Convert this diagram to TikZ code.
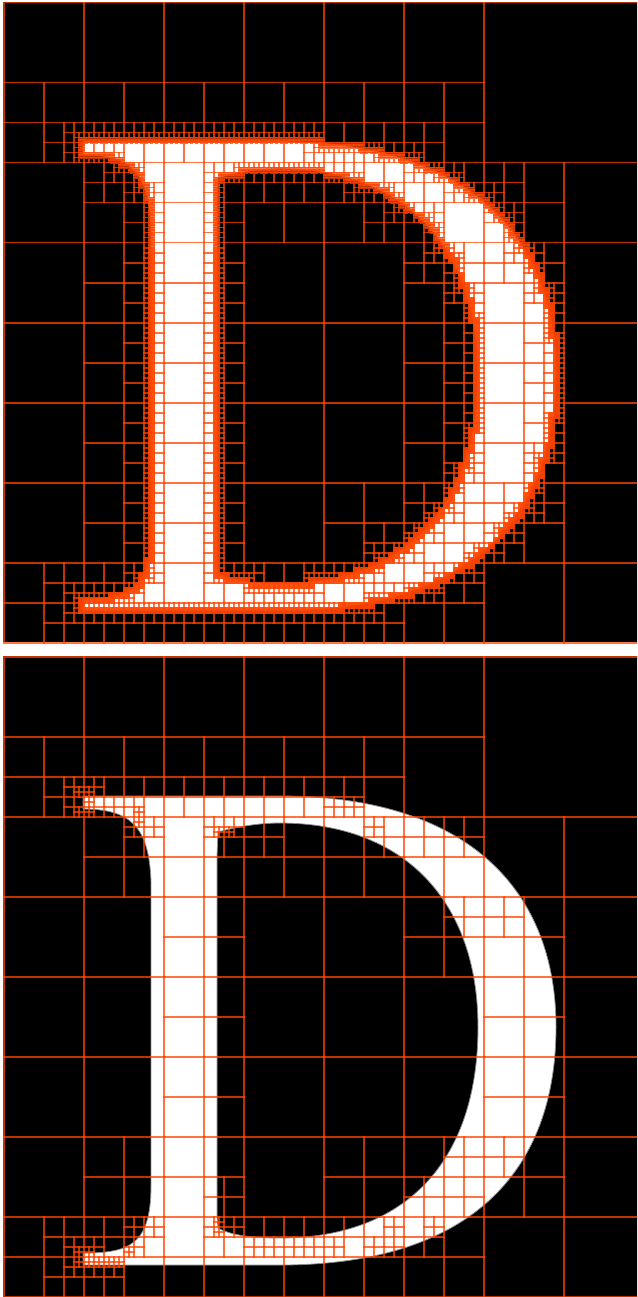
\documentclass[tikz,border=0pt]{standalone}
\definecolor{qline}{HTML}{FF4500}
\newcount\qi \newcount\qj \newcount\qs \newcount\qk \newcount\qn \newcount\qt
\newcount\qpx \newcount\qpy \newcount\qdx \newcount\qdy \newcount\qnx \newcount\qny
\newdimen\qox \newdimen\qoy
% mark every cell from the root down to size #4 (tenths) that holds point (#2,#3)
\def\qmkall#1#2#3#4{\begingroup\qs=6400
  \loop
    \qi=#2 \divide\qi by \qs \qj=#3 \divide\qj by \qs
    \expandafter\gdef\csname #1\the\qi:\the\qj:\the\qs\endcsname{}%
  \ifnum\qs>#4 \divide\qs by 2 \repeat\endgroup}
\def\qb#1#2#3{\qmkall{B}{\numexpr#1*10+10\relax}{\numexpr#2*10+10\relax}{\numexpr#3*10\relax}}
% walk the outline in px and mark the top tree
\def\qseg{\begingroup
  \qdx=\numexpr\qnx-\qpx\relax \qdy=\numexpr\qny-\qpy\relax
  \qn=\numexpr(\ifnum\qdx<0 -\fi\qdx+\ifnum\qdy<0 -\fi\qdy)/5+1\relax
  \qk=0
  \loop
    \qmkall{T}{\numexpr\qpx+\qdx*\qk/\qn\relax}{\numexpr\qpy+\qdy*\qk/\qn\relax}{50}%
  \ifnum\qk<\qn \advance\qk by 1 \repeat\endgroup
  \qpx=\qnx \qpy=\qny}
\def\qstart(#1,#2){\qpx=\numexpr#1*10-33\relax \qpy=\numexpr#2*10-5\relax}
\def\qto(#1,#2){\qnx=\numexpr#1*10-33\relax \qny=\numexpr#2*10-5\relax \qseg}
\def\qc#1{(#1*10-33)}\def\qd#1{(#1*10-5)}
\def\qbz(#1,#2)(#3,#4)(#5,#6)(#7,#8){\qstart(#1,#2)\qt=1
  \loop
    \qnx=\numexpr((64-\qt)*(64-\qt)*(64-\qt)*\qc{#1}+3*(64-\qt)*(64-\qt)*\qt*\qc{#3}+3*(64-\qt)*\qt*\qt*\qc{#5}+\qt*\qt*\qt*\qc{#7})/262144\relax
    \qny=\numexpr((64-\qt)*(64-\qt)*(64-\qt)*\qd{#2}+3*(64-\qt)*(64-\qt)*\qt*\qd{#4}+3*(64-\qt)*\qt*\qt*\qd{#6}+\qt*\qt*\qt*\qd{#8})/262144\relax
    \qseg
  \ifnum\qt<64 \advance\qt by 1 \repeat}
% drawing: every grid line is a filled bar
\def\qpt#1#2{\pgfqpoint{\dimexpr65536sp*\numexpr#1\relax/10+\qox\relax}{\dimexpr-65536sp*\numexpr#2\relax/10-\qoy\relax}}
\def\qbar#1#2#3#4{\pgfpathrectanglecorners{\qpt{#1}{#2}}{\qpt{#3}{#4}}}
\def\qlo#1{\ifnum#1=50 3\else 0\fi}
\def\qhi#1{\ifnum#1=50 20\else 15\fi}
\def\qcall#1#2#3#4{\edef\qtmp{\noexpand\qcell{#1}{\the\numexpr#2\relax}{\the\numexpr#3\relax}{\the\numexpr#4\relax}}\qtmp}
\def\qcell#1#2#3#4{\qi=#2 \divide\qi by #4 \qj=#3 \divide\qj by #4
  \ifcsname #1\the\qi:\the\qj:#4\endcsname
    \qbar{#2+#4/2-\qlo{#4}}{#3}{#2+#4/2+\qhi{#4}}{#3+#4+\qhi{#4}}%
    \pgfusepath{fill}%
    \qbar{#2}{#3+#4/2-\qlo{#4}}{#2+#4+\qhi{#4}}{#3+#4/2+\qhi{#4}}%
    \pgfusepath{fill}%
    \qcall{#1}{#2}{#3}{#4/2}%
    \qcall{#1}{#2+#4/2}{#3}{#4/2}%
    \qcall{#1}{#2}{#3+#4/2}{#4/2}%
    \qcall{#1}{#2+#4/2}{#3+#4/2}{#4/2}%
  \fi}
\def\qtree#1#2#3{\qox=#2pt \qoy=#3pt
  \begin{scope}\pgfsetfillcolor{qline}\pgfsetfillopacity{0.75}%
  \qbar{0}{0}{6410}{15}\pgfusepath{fill}\qbar{0}{6400}{6410}{6415}\pgfusepath{fill}%
  \qbar{0}{15}{15}{6400}\pgfusepath{fill}%
  \qcell{#1}{0}{0}{6400}\end{scope}}
% D outline, marks for the top tree
\qstart(83,140)\qto(280,139)
\qbz(280,139)(470,139)(556,236)(556,371)
\qbz(556,371)(556,516)(470,609)(280,609)
\qstart(280,609)\qto(83,609)\qto(83,597)
\qbz(83,597)(128,597)(151,590)(151,530)
\qstart(151,530)\qto(151,225)
\qbz(151,225)(149,170)(130,153)(83,153)
\qstart(83,153)\qto(83,140)
\qbz(218,176)(240,170)(260,167)(280,167)
\qbz(280,167)(405,167)(478,246)(478,371)
\qbz(478,371)(478,506)(405,582)(280,582)
\qbz(280,582)(255,582)(232,580)(218,572)
\qstart(218,572)\qto(217,560)\qto(217,200)\qto(218,176)
\colorlet{dedge}{black!45}
\def\DFill{\filldraw[fill=white,draw=dedge,line width=0.8pt,even odd rule] (83,140) -- (280,140) .. controls (470,140) and (556,236) .. (556,371) .. controls (556,516) and (470,609) .. (280,609) -- (83,609) -- (83,597) .. controls (128,597) and (151,590) .. (151,530) -- (151,225) .. controls (149,170) and (130,153) .. (83,153) -- cycle
 (218,176) .. controls (240,170) and (260,167) .. (280,167) .. controls (405,167) and (478,246) .. (478,371) .. controls (478,506) and (405,582) .. (280,582) .. controls (255,582) and (232,580) .. (218,572) -- (217,560) -- (217,200) -- cycle;}
% bottom tree
\qb{0}{0}{160}\qb{160}{0}{160}\qb{320}{0}{160}
\qb{0}{160}{160}\qb{80}{160}{160}\qb{160}{160}{160}\qb{320}{160}{160}\qb{480}{160}{160}
\qb{0}{320}{160}\qb{160}{320}{160}\qb{320}{320}{160}\qb{480}{320}{160}
\qb{0}{480}{160}\qb{160}{480}{160}\qb{320}{480}{160}\qb{480}{480}{160}
\qb{0}{80}{80}\qb{80}{80}{80}\qb{160}{80}{80}\qb{240}{80}{80}\qb{320}{80}{80}
\qb{40}{120}{40}\qb{80}{120}{40}\qb{120}{120}{40}\qb{160}{120}{40}\qb{200}{120}{40}\qb{240}{120}{40}\qb{280}{120}{40}\qb{320}{120}{40}
\qb{60}{120}{20}\qb{60}{140}{20}\qb{80}{120}{20}\qb{80}{140}{20}\qb{100}{140}{20}\qb{120}{140}{20}
\qb{70}{130}{10}\qb{80}{130}{10}\qb{80}{140}{10}\qb{70}{150}{10}\qb{80}{150}{10}\qb{130}{150}{10}
\qb{320}{140}{20}\qb{340}{140}{20}
\qb{80}{160}{80}\qb{160}{160}{80}\qb{240}{160}{80}\qb{320}{160}{80}\qb{400}{160}{80}
\qb{120}{160}{40}\qb{200}{160}{40}\qb{240}{160}{40}\qb{360}{160}{40}\qb{400}{160}{40}\qb{440}{160}{40}
\qb{120}{160}{20}\qb{140}{160}{20}\qb{200}{160}{20}\qb{220}{160}{20}\qb{360}{160}{20}
\qb{130}{160}{10}\qb{210}{170}{10}\qb{220}{170}{10}
\qb{160}{240}{80}\qb{400}{240}{80}\qb{480}{240}{80}\qb{440}{240}{40}\qb{480}{240}{40}
\qb{160}{320}{80}\qb{480}{320}{80}
\qb{160}{400}{80}\qb{480}{400}{80}
\qb{80}{480}{80}\qb{160}{480}{80}\qb{320}{480}{80}\qb{400}{480}{80}\qb{480}{480}{80}
\qb{200}{520}{40}\qb{440}{480}{40}\qb{480}{480}{40}\qb{400}{520}{40}\qb{440}{520}{40}
\qb{0}{560}{80}\qb{80}{560}{80}\qb{160}{560}{80}\qb{240}{560}{80}\qb{320}{560}{80}\qb{400}{560}{80}
\qb{40}{560}{40}\qb{40}{600}{40}\qb{80}{560}{40}\qb{80}{600}{40}\qb{120}{560}{40}\qb{200}{560}{40}\qb{240}{560}{40}\qb{280}{560}{40}\qb{320}{560}{40}\qb{360}{560}{40}\qb{400}{560}{40}
\qb{60}{580}{20}\qb{60}{600}{20}\qb{80}{580}{20}\qb{80}{600}{20}\qb{100}{600}{20}\qb{120}{560}{20}\qb{140}{560}{20}\qb{120}{580}{20}\qb{200}{560}{20}\qb{220}{560}{20}
\qb{240}{580}{20}\qb{260}{580}{20}\qb{280}{580}{20}\qb{300}{580}{20}\qb{320}{580}{20}\qb{380}{560}{20}\qb{360}{580}{20}\qb{380}{580}{20}\qb{420}{560}{20}
\qb{70}{590}{10}\qb{70}{600}{10}\qb{80}{590}{10}\qb{80}{600}{10}\qb{90}{600}{10}\qb{100}{600}{10}\qb{110}{600}{10}\qb{120}{590}{10}\qb{210}{560}{10}\qb{210}{570}{10}
\begin{document}
\begin{tikzpicture}[x=1pt,y=-1pt]
\useasboundingbox (0,0) rectangle (637,1297);
\fill[white] (0,0) rectangle (637,1297);
\begin{scope}
\clip (0,0) rectangle (637,1297);
\fill[black] (3,2) rectangle (640,642);
\fill[black] (3,656) rectangle (640,1297);
\begin{scope}[shift={(0,1.7)}]\DFill\end{scope}
\begin{scope}[shift={(0,656)}]\DFill\end{scope}
\qtree{T}{3}{2}
\qtree{B}{3}{656}
\end{scope}
\end{tikzpicture}
\end{document}
